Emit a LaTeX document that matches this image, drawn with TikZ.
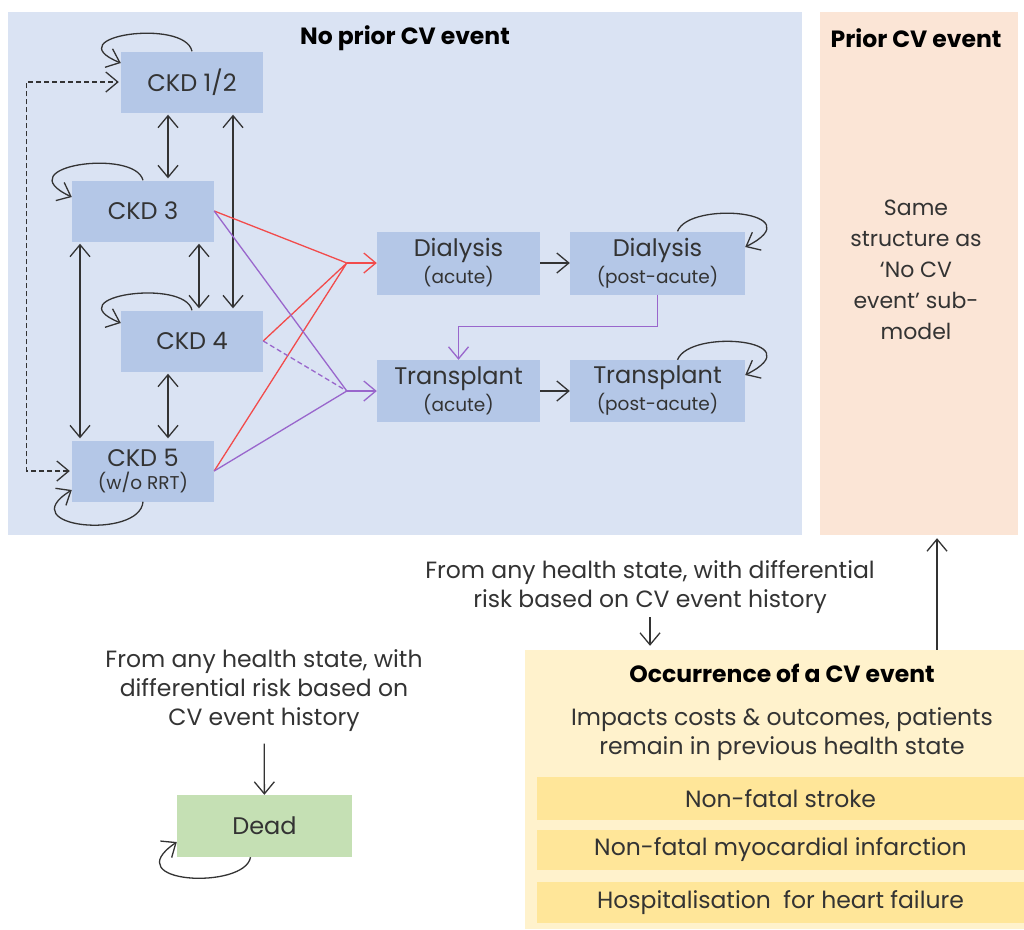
\documentclass[tikz,border=0pt]{standalone}
\usepackage{fontspec}
\setmainfont{Poppins}
\usetikzlibrary{arrows.meta}
\definecolor{panelblue}{HTML}{DAE3F3}
\definecolor{stateblue}{HTML}{B4C7E7}
\definecolor{priorpeach}{HTML}{FBE5D6}
\definecolor{cvyellow}{HTML}{FFF2CC}
\definecolor{cvbar}{HTML}{FFE699}
\definecolor{deadgreen}{HTML}{C5E0B4}
\definecolor{rrtred}{HTML}{F24B4B}
\definecolor{txpurple}{HTML}{9966CC}
\definecolor{ink}{HTML}{333333}
\newcommand\mainf{\fontsize{24}{27}\selectfont}
\newcommand\subf{\fontsize{18.5}{21}\selectfont}
\newcommand\txtf{\fontsize{23.5}{29}\selectfont}
\newcommand\headf{\fontsize{23.5}{26}\selectfont\bfseries}

\begin{document}
\begin{tikzpicture}[
  x=1pt, y=-1pt,
  >={Straight Barb[length=12pt,width=20pt]},
  state/.style={fill=stateblue, text=ink, font=\mainf, align=center, inner sep=0pt, minimum width=142pt, minimum height=61pt},
  panel/.style={inner sep=0pt},
  heading/.style={font=\headf, text=black},
  note/.style={font=\txtf, text=ink, align=center},
  bar/.style={fill=cvbar, font=\txtf, text=ink, inner sep=0pt, minimum width=487pt},
  link/.style={draw=ink, line width=1.3pt, ->},
  both/.style={link, <->, shorten <=2pt, shorten >=2pt},
  toRRT/.style={draw=rrtred, line width=1.3pt},
  toTx/.style={draw=txpurple, line width=1.3pt}
]
\useasboundingbox (0,0) rectangle (1024,929);
\node[panel, fill=panelblue, minimum width=794pt, minimum height=523pt] (nocv) at (405,273.5) {};
\node[panel, fill=priorpeach, minimum width=198pt, minimum height=523pt] (prior) at (919,273.5) {};
\node[heading] (nocvtitle) at (405,38) {No prior CV event};
\node[heading] (priortitle) at (916,38) {Prior CV event};
\node[note, font=\fontsize{22}{31}\selectfont] (priortext) at (916,270) {Same\\structure as\\‘No CV\\event’ sub-\\model};

\node[state] (ckd12) at (192,82) {CKD 1/2};
\node[state] (ckd3) at (143,211) {CKD 3};
\node[state] (ckd4) at (192,341) {CKD 4};
\node[state] (ckd5) at (143,471) {CKD 5\\[-4pt]{\subf (w/o RRT)}};
\node[state, minimum width=163pt, minimum height=63pt] (dacute) at (458.5,263) {Dialysis\\{\subf (acute)}};
\node[state, minimum width=175pt, minimum height=63pt] (dpost) at (657.5,263) {Dialysis\\{\subf (post-acute)}};
\node[state, minimum width=163pt, minimum height=62pt] (tacute) at (458.5,391) {Transplant\\{\subf (acute)}};
\node[state, minimum width=175pt, minimum height=62pt] (tpost) at (657.5,391) {Transplant\\{\subf (post-acute)}};
\node[state, fill=deadgreen, minimum width=175pt, minimum height=62pt] (dead) at (264.5,826) {Dead};

\draw[link] (ckd12.north) .. controls (185,18) and (55,36) .. ([yshift=19pt]ckd12.west);
\draw[link] (ckd3.north) .. controls (135,148) and (5,166) .. ([yshift=14pt]ckd3.west);
\draw[link] (ckd4.north) .. controls (185,278) and (55,296) .. ([yshift=18pt]ckd4.west);
\draw[link] (ckd5.south) .. controls (140,540) and (10,528) .. ([yshift=-19pt]ckd5.west);
\draw[link] ([xshift=20pt]dpost.north) .. controls (690,200) and (815,212) .. ([yshift=16pt]dpost.east);
\draw[link] ([xshift=20pt]tpost.north) .. controls (690,328) and (815,340) .. ([yshift=16pt]tpost.east);
\draw[link] ([xshift=-14pt]dead.south) .. controls (245,890) and (115,884) .. ([yshift=-16pt]dead.west);

\draw[both] ([xshift=-24pt]ckd12.south) -- ([xshift=25pt]ckd3.north);
\draw[both] ([xshift=41pt]ckd12.south) -- ([xshift=41pt]ckd4.north);
\draw[both] ([xshift=56pt]ckd3.south) -- ([xshift=7pt]ckd4.north);
\draw[both] ([xshift=-63pt]ckd3.south) -- ([xshift=-63pt]ckd5.north);
\draw[both] ([xshift=-24pt]ckd4.south) -- ([xshift=25pt]ckd5.north);
\draw[both, dash pattern=on 5pt off 3pt] (ckd5.west) -- ++(-45,0) |- (ckd12.west);

\coordinate (rrtjoin) at ([xshift=-30pt]dacute.west);
\coordinate (txjoin) at ([xshift=-30pt]tacute.west);
\draw[toRRT] (ckd3.east) -- (rrtjoin) (ckd4.east) -- (rrtjoin) (ckd5.east) -- (rrtjoin);
\draw[toRRT, ->] (rrtjoin) -- (dacute.west);
\draw[toTx] (ckd3.east) -- (txjoin) (ckd5.east) -- (txjoin);
\draw[toTx, dash pattern=on 5pt off 3pt] (ckd4.east) -- (txjoin);
\draw[toTx, ->] (txjoin) -- (tacute.west);
\draw[toTx, ->] (dpost.south) -- ++(0,32) -| (tacute.north);
\draw[link] (dacute) -- (dpost);
\draw[link] (tacute) -- (tpost);

\node[note] (deadrisk) at (264,691) {From any health state, with\\differential risk based on\\CV event history};
\draw[link, shorten <=8pt] (deadrisk) -- (dead);

\node[panel, fill=cvyellow, minimum width=499pt, minimum height=279pt] (cvbox) at (774.5,789.5) {};
\node[heading] (cvtitle) at (782,673) {Occurrence of a CV event};
\node[note] (cvimpact) at (782,734) {Impacts costs \& outcomes, patients\\remain in previous health state};
\node[bar, minimum height=43pt] (stroke) at (780.5,798.5) {Non-fatal stroke};
\node[bar, minimum height=40pt] (mi) at (780.5,850) {Non-fatal myocardial infarction};
\node[bar, minimum height=41pt] (hf) at (780.5,902.5) {Hospitalisation\ \ for heart failure};

\node[note] (cvrisk) at (650,587) {From any health state, with differential\\risk based on CV event history};
\draw[link, shorten >=4pt] (cvrisk) -- (cvrisk |- cvbox.north);
\draw[link, shorten >=3pt] ([xshift=162.5pt]cvbox.north) -- ([xshift=18pt]prior.south);
\end{tikzpicture}
\end{document}
